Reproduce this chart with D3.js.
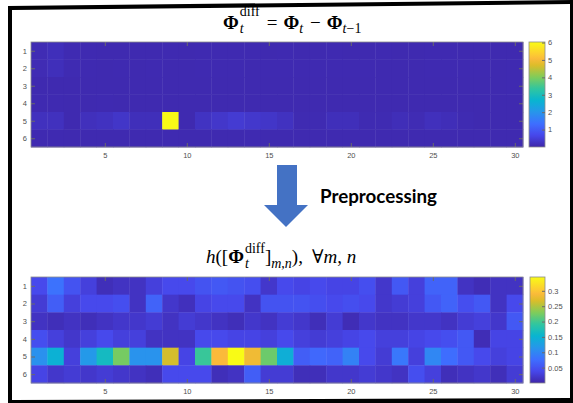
<!DOCTYPE html>
<html>
<head>
<meta charset="utf-8">
<script src="https://cdn.jsdelivr.net/npm/d3@7"></script>
<style>
  body { margin: 0; background: #fff; }
  svg { display: block; }
  .tick text { fill: #505050; }
</style>
</head>
<body>
<svg id="fig" width="573" height="403"></svg>
<script>
// ---- data ----
const cols = d3.range(1, 31);
const rows = [1, 2, 3, 4, 5, 6];
const xTicks = [5, 10, 15, 20, 25, 30];
const diffTicks = [1, 2, 3, 4, 5, 6];
const hTicks = [0.05, 0.1, 0.15, 0.2, 0.25, 0.3];
const diffDomain = [0, 6.03];
const hDomain = [0, 0.345];

// Phi_t^diff, rows 1..6, cols 1..30
const diffRows = [
  [0.12,0.18,0.10,0.09,0.08,0.08,0.08,0.08,0.09,0.08,0.09,0.09,0.09,0.09,0.08,0.09,0.08,0.08,0.09,0.08,0.08,0.09,0.08,0.08,0.09,0.09,0.08,0.08,0.08,0.08],
  [0.12,0.18,0.10,0.09,0.08,0.09,0.08,0.09,0.08,0.08,0.09,0.09,0.09,0.08,0.09,0.09,0.09,0.09,0.09,0.09,0.09,0.08,0.08,0.08,0.09,0.09,0.09,0.09,0.08,0.09],
  [0.08,0.08,0.08,0.08,0.08,0.08,0.08,0.08,0.08,0.08,0.08,0.08,0.08,0.08,0.08,0.08,0.08,0.08,0.08,0.08,0.08,0.08,0.08,0.08,0.08,0.08,0.08,0.08,0.08,0.09],
  [0.09,0.09,0.08,0.08,0.09,0.08,0.08,0.08,0.08,0.08,0.08,0.08,0.08,0.08,0.08,0.08,0.08,0.08,0.08,0.08,0.08,0.08,0.08,0.08,0.08,0.08,0.08,0.08,0.08,0.08],
  [0.22,0.22,0.08,0.20,0.24,0.32,0.18,0.18,6.00,0.08,0.26,0.34,0.42,0.36,0.32,0.24,0.10,0.10,0.18,0.18,0.10,0.10,0.16,0.12,0.20,0.16,0.10,0.08,0.08,0.08],
  [0.09,0.09,0.08,0.08,0.08,0.08,0.08,0.08,0.09,0.08,0.08,0.08,0.08,0.09,0.08,0.08,0.08,0.08,0.08,0.08,0.08,0.08,0.08,0.08,0.08,0.08,0.08,0.08,0.08,0.08]
];

// h([Phi_t^diff]_{m,n}), rows 1..6, cols 1..30
const hRows = [
  [0.040,0.080,0.050,0.030,0.010,0.015,0.015,0.030,0.040,0.040,0.050,0.055,0.050,0.045,0.020,0.040,0.035,0.040,0.035,0.035,0.045,0.020,0.055,0.030,0.065,0.065,0.015,0.008,0.015,0.015],
  [0.025,0.060,0.030,0.040,0.040,0.045,0.015,0.065,0.020,0.012,0.035,0.040,0.040,0.015,0.050,0.050,0.050,0.045,0.040,0.045,0.040,0.020,0.025,0.030,0.055,0.065,0.045,0.055,0.015,0.040],
  [0.015,0.010,0.015,0.010,0.015,0.020,0.020,0.025,0.015,0.025,0.020,0.015,0.010,0.020,0.015,0.025,0.020,0.010,0.025,0.008,0.020,0.015,0.015,0.020,0.020,0.015,0.025,0.030,0.020,0.055],
  [0.045,0.030,0.020,0.030,0.040,0.030,0.030,0.015,0.015,0.015,0.040,0.040,0.035,0.035,0.030,0.040,0.030,0.025,0.030,0.035,0.040,0.030,0.030,0.035,0.040,0.045,0.055,0.008,0.035,0.035],
  [0.110,0.148,0.030,0.118,0.165,0.225,0.112,0.112,0.265,0.035,0.195,0.290,0.345,0.283,0.220,0.145,0.060,0.070,0.065,0.095,0.040,0.025,0.085,0.030,0.100,0.075,0.055,0.040,0.030,0.035],
  [0.035,0.020,0.025,0.020,0.025,0.020,0.015,0.010,0.040,0.040,0.040,0.010,0.015,0.060,0.025,0.025,0.010,0.010,0.020,0.020,0.025,0.020,0.015,0.045,0.030,0.010,0.015,0.020,0.010,0.025]
];

// MATLAB parula, sampled
const parulaAt = [0, 0.111, 0.222, 0.333, 0.444, 0.556, 0.667, 0.778, 0.84, 0.889, 1];
const parulaCol = ['rgb(62,38,168)','rgb(71,71,235)','rgb(62,111,255)','rgb(39,150,235)','rgb(8,181,208)',
                   'rgb(49,198,159)','rgb(129,204,89)','rgb(220,189,41)','rgb(250,186,58)','rgb(252,207,48)','rgb(249,251,21)'];
const parula = d3.scaleLinear().domain(parulaAt).range(parulaCol).interpolate(d3.interpolateRgb).clamp(true);

const svg = d3.select('#fig');

// outer frame of the figure (slightly skewed scan)
svg.append('path')
  .attr('d', 'M8,6 L573,0 L573,403 L8,403 Z M12,10 L12,400 L570,398 L570,4 Z')
  .attr('fill', '#000')
  .attr('fill-rule', 'evenodd');

function heatmap(vals, domain, ticks, fmt, box){
  const g = svg.append('g');
  const x = d3.scaleLinear().domain([0.5, 30.5]).range([box.left, box.right]);
  const y = d3.scaleLinear().domain([0.5, 6.5]).range([box.top, box.bottom]);
  const c = d3.scaleLinear().domain(domain).range([0, 1]);

  const cells = [];
  vals.forEach(function(r, i){ r.forEach(function(v, j){ cells.push({row: rows[i], col: cols[j], v: v}); }); });

  g.selectAll('rect.cell')
    .data(cells)
    .enter().append('rect')
    .attr('class', 'cell')
    .attr('x', function(d){ return x(d.col - 0.5); })
    .attr('y', function(d){ return y(d.row - 0.5); })
    .attr('width', x(1.5) - x(0.5) + 0.4)
    .attr('height', y(1.5) - y(0.5) + 0.4)
    .attr('fill', function(d){ return parula(c(d.v)); });

  const axStyle = function(a){
    a.attr('font-family', '"Liberation Sans", Arial, sans-serif').attr('font-size', 7.5);
    a.select('.domain').remove();
    a.selectAll('.tick line').attr('stroke', '#6a6a6a');
  };

  g.append('g').attr('transform', 'translate(0,' + box.bottom + ')')
    .call(d3.axisBottom(x).tickValues(xTicks).tickFormat(d3.format('d')).tickSizeInner(-4).tickSizeOuter(0).tickPadding(6))
    .call(axStyle);
  g.append('g').attr('transform', 'translate(0,' + box.top + ')')
    .call(d3.axisTop(x).tickValues(xTicks).tickSizeInner(-4).tickSizeOuter(0).tickFormat(''))
    .call(axStyle);
  g.append('g').attr('transform', 'translate(' + box.left + ',0)')
    .call(d3.axisLeft(y).tickValues(rows).tickFormat(d3.format('d')).tickSizeInner(-4).tickSizeOuter(0).tickPadding(4))
    .call(axStyle);
  g.append('g').attr('transform', 'translate(' + box.right + ',0)')
    .call(d3.axisRight(y).tickValues(rows).tickSizeInner(-4).tickSizeOuter(0).tickFormat(''))
    .call(axStyle);

  g.append('rect')
    .attr('x', box.left).attr('y', box.top)
    .attr('width', box.right - box.left).attr('height', box.bottom - box.top)
    .attr('fill', 'none').attr('stroke', '#8c8c8c').attr('stroke-width', 0.8);

  // colorbar
  const id = 'grad' + box.top;
  const grad = svg.append('defs').append('linearGradient')
    .attr('id', id).attr('x1', 0).attr('y1', 1).attr('x2', 0).attr('y2', 0);
  d3.range(0, 1.0001, 0.02).forEach(function(t){
    grad.append('stop').attr('offset', t).attr('stop-color', parula(t));
  });
  const cy = d3.scaleLinear().domain(domain).range([box.bottom, box.top]);
  g.append('rect')
    .attr('x', box.cbLeft).attr('y', box.top)
    .attr('width', box.cbRight - box.cbLeft).attr('height', box.bottom - box.top)
    .attr('fill', 'url(#' + id + ')')
    .attr('stroke', '#8c8c8c').attr('stroke-width', 0.8);
  g.append('g').attr('transform', 'translate(' + box.cbRight + ',0)')
    .call(d3.axisRight(cy).tickValues(ticks).tickFormat(fmt).tickSizeInner(-3).tickSizeOuter(0).tickPadding(3))
    .call(axStyle);
}

heatmap(diffRows, diffDomain, diffTicks, d3.format('d'),
  {left: 31, right: 523, top: 42, bottom: 147, cbLeft: 529, cbRight: 545});
heatmap(hRows, hDomain, hTicks, function(v){ return String(+v.toFixed(2)); },
  {left: 31, right: 523, top: 277, bottom: 383, cbLeft: 530, cbRight: 545});

// LaTeX-like titles laid out piece by piece
function mathLine(x0, y0, items){
  const g = svg.append('g')
    .attr('font-family', '"Liberation Serif", "DejaVu Serif", serif')
    .attr('fill', '#000');
  let cx = x0;
  items.forEach(function(it){
    if (it.gap != null) { cx += it.gap; return; }
    const parts = it.stack ? [it.sup, it.sub] : [it];
    let w = 0;
    parts.forEach(function(p){
      const t = g.append('text').attr('x', cx).attr('y', y0 + (p.dy || 0)).attr('font-size', p.size);
      p.runs.forEach(function(r){
        t.append('tspan').text(r.s)
          .attr('font-weight', r.b ? 'bold' : null)
          .attr('font-style', r.i ? 'italic' : null);
      });
      w = Math.max(w, t.node().getComputedTextLength());
    });
    cx += w;
  });
}

mathLine(223, 29, [
  {runs: [{s: 'Φ', b: 1}], size: 19},
  {gap: 1},
  {stack: 1, sup: {runs: [{s: 'diff'}], size: 14, dy: -13}, sub: {runs: [{s: 't', i: 1}], size: 14, dy: 4}},
  {gap: 7}, {runs: [{s: '='}], size: 19}, {gap: 6},
  {runs: [{s: 'Φ', b: 1}], size: 19},
  {runs: [{s: 't', i: 1}], size: 14, dy: 4},
  {gap: 7}, {runs: [{s: '−'}], size: 19}, {gap: 6},
  {runs: [{s: 'Φ', b: 1}], size: 19},
  {runs: [{s: 't', i: 1}, {s: '−1'}], size: 14, dy: 4}
]);

mathLine(206, 263, [
  {runs: [{s: 'h', i: 1}, {s: '(['}], size: 19},
  {runs: [{s: 'Φ', b: 1}], size: 19},
  {gap: 1},
  {stack: 1, sup: {runs: [{s: 'diff'}], size: 14, dy: -10}, sub: {runs: [{s: 't', i: 1}], size: 14, dy: 5}},
  {runs: [{s: ']'}], size: 19},
  {runs: [{s: 'm', i: 1}, {s: ','}, {s: 'n', i: 1}], size: 14, dy: 5},
  {runs: [{s: '),'}], size: 19},
  {gap: 9},
  {runs: [{s: '∀'}, {s: 'm', i: 1}, {s: ', '}, {s: 'n', i: 1}], size: 19}
]);

// block arrow + label
svg.append('path')
  .attr('d', 'M277,165 L297,165 L297,205 L308,205 L286,227 L264,205 L277,205 Z')
  .attr('fill', '#4472c4');
svg.append('text')
  .attr('x', 320).attr('y', 203)
  .attr('font-family', 'Lato, "Open Sans", sans-serif')
  .attr('font-weight', 'bold')
  .attr('font-size', 19)
  .attr('textLength', 117)
  .attr('lengthAdjust', 'spacingAndGlyphs')
  .text('Preprocessing');
</script>
</body>
</html>
